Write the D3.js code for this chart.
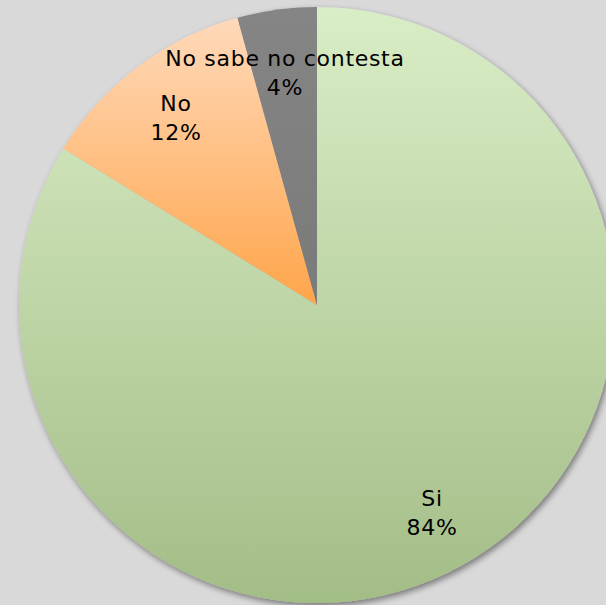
<!DOCTYPE html>
<html><head><meta charset="utf-8">
<script src="https://cdn.jsdelivr.net/npm/d3@7"></script>
<style>html,body{margin:0;padding:0;background:#d9d9d9;overflow:hidden}</style>
</head><body>
<script>
const categories = ["Si", "No", "No sabe no contesta"];
const values = [83.8, 11.9, 4.3];
const labels = ["84%", "12%", "4%"];
const topColors = ["#d9edc6", "#ffd9ba", "#858585"];
const bottomColors = ["#a3bd87", "#ffa54a", "#7a7a7a"];

const W = 606, H = 605, cx = 317, cy = 305, R = 298;
const svg = d3.select("body").append("svg").attr("width", W).attr("height", H);
svg.append("rect").attr("width", W).attr("height", H).attr("fill", "#d9d9d9");
const defs = svg.append("defs");
const f = defs.append("filter").attr("id", "sh").attr("x", "-10%").attr("y", "-10%").attr("width", "120%").attr("height", "120%");
f.append("feGaussianBlur").attr("in", "SourceAlpha").attr("stdDeviation", 3);
f.append("feOffset").attr("dx", 2).attr("dy", 3).attr("result", "o");
f.append("feComponentTransfer").append("feFuncA").attr("type", "linear").attr("slope", 0.45);
const m = f.append("feMerge"); m.append("feMergeNode"); m.append("feMergeNode").attr("in", "SourceGraphic");

categories.forEach((c, i) => {
  const g = defs.append("linearGradient").attr("id", "g" + i).attr("x1", 0).attr("y1", 0).attr("x2", 0).attr("y2", 1);
  g.append("stop").attr("offset", "0%").attr("stop-color", topColors[i]);
  g.append("stop").attr("offset", "100%").attr("stop-color", bottomColors[i]);
});

const pie = d3.pie().sort(null).value(d => d);
const arcs = pie(values);
const arc = d3.arc().innerRadius(0).outerRadius(R);
const g = svg.append("g").attr("transform", `translate(${cx},${cy})`);
g.append("g").attr("filter", "url(#sh)").selectAll("path").data(arcs).join("path")
  .attr("d", arc).attr("fill", (d, i) => `url(#g${i})`);

const labelPos = [[115, 201], [-141, -194], [-32, -239]];
const lg = g.append("g").attr("font-family", "'DejaVu Sans', sans-serif").attr("font-size", 22)
  .attr("letter-spacing", 0.7).attr("fill", "#000").attr("text-anchor", "middle");
arcs.forEach((a, i) => {
  const t = lg.append("text").attr("x", labelPos[i][0]).attr("y", labelPos[i][1]);
  t.append("tspan").attr("x", labelPos[i][0]).attr("dy", 0).text(categories[i]);
  t.append("tspan").attr("x", labelPos[i][0]).attr("dy", 29).text(labels[i]);
});
</script>
</body></html>
